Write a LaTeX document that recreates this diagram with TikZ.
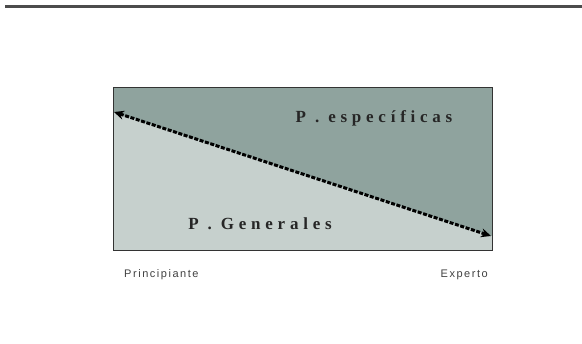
\documentclass[tikz,border=0pt]{standalone}
\usepackage{fontspec}
\setmainfont{Liberation Serif}
\setsansfont{Liberation Sans}
\usetikzlibrary{arrows.meta,positioning}

\definecolor{darkarea}{HTML}{8FA39E}
\definecolor{lightarea}{HTML}{C6D0CD}

\begin{document}
\begin{tikzpicture}[x=1pt, y=-1pt,
    area/.style={font=\bfseries\fontsize{17}{17}\selectfont\addfontfeatures{LetterSpace=28}, text=black!85, inner sep=0pt},
    lbl/.style={font=\sffamily\fontsize{11}{11}\selectfont\addfontfeatures{LetterSpace=14}, text=black!75, inner sep=0pt},
    arr/.style={{Stealth[length=10pt,width=9pt]}-{Stealth[length=10pt,width=9pt]}, line width=3pt, dash pattern=on 4pt off 1.6pt}
]
\useasboundingbox (0,0) rectangle (582,344);
\draw[line width=2.5pt, black!70] (5,6.5) -- (582,6.5);

% box corners and arrow ends
\coordinate (tl) at (113,88);
\coordinate (tr) at (492,88);
\coordinate (br) at (492,251);
\coordinate (start) at (114,112);
\coordinate (stop) at (491,236);

\fill[lightarea] (tl) rectangle (br);
\fill[darkarea] (tl) -- (tr) -- (tr |- stop) -- (tl |- start) -- cycle;
\draw[black!80, line width=1pt] (tl) rectangle (br);
\draw[arr] (start) -- (stop);

\node[area, anchor=base] (especificas) at (374,123) {P . específicas};
\node[area, anchor=base] (generales) at (260,230) {P . Generales};

\node[lbl, anchor=base west] (principiante) at (124,278) {Principiante};
\node[lbl, anchor=base east] (experto) at (488,278) {Experto};
\end{tikzpicture}
\end{document}
